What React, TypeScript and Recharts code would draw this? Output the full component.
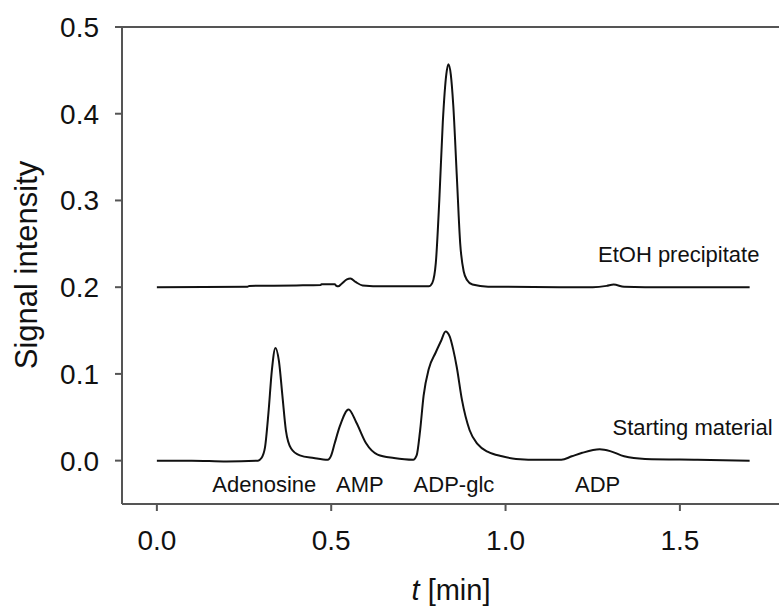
import React from "react";
import { LineChart, Line, XAxis, YAxis, ReferenceLine, ReferenceDot } from "recharts";

const startTimes = [0, 0.1, 0.2, 0.29, 0.3, 0.31, 0.32, 0.33, 0.34, 0.35, 0.36, 0.37, 0.385, 0.41, 0.45, 0.49, 0.5, 0.51, 0.525, 0.55, 0.572, 0.6, 0.633, 0.68, 0.735, 0.745, 0.755, 0.765, 0.78, 0.8, 0.815, 0.828, 0.84, 0.85, 0.86, 0.875, 0.897, 0.92, 0.95, 0.99, 1.03, 1.1, 1.16, 1.19, 1.22, 1.27, 1.3, 1.34, 1.4, 1.55, 1.7];
const startValues = [0, 0, -0.001, 0, 0.003, 0.015, 0.055, 0.105, 0.13, 0.115, 0.075, 0.035, 0.014, 0.006, 0.003, 0.001, 0.006, 0.02, 0.04, 0.059, 0.044, 0.02, 0.007, 0.003, 0.001, 0.006, 0.035, 0.075, 0.106, 0.125, 0.138, 0.149, 0.143, 0.128, 0.108, 0.07, 0.035, 0.019, 0.01, 0.005, 0.002, 0.001, 0.001, 0.005, 0.009, 0.013, 0.011, 0.005, 0.002, 0.001, 0];

const etohTimes = [0, 0.26, 0.265, 0.4, 0.47, 0.472, 0.51, 0.515, 0.52, 0.53, 0.545, 0.555, 0.57, 0.59, 0.65, 0.78, 0.79, 0.8, 0.81, 0.82, 0.83, 0.836, 0.843, 0.85, 0.86, 0.87, 0.88, 0.89, 0.905, 0.95, 1.25, 1.29, 1.31, 1.34, 1.4, 1.7];
const etohValues = [0.2, 0.2005, 0.2015, 0.202, 0.2025, 0.2035, 0.2035, 0.2015, 0.201, 0.204, 0.209, 0.21, 0.206, 0.202, 0.201, 0.201, 0.205, 0.228, 0.3, 0.39, 0.445, 0.457, 0.445, 0.41, 0.33, 0.25, 0.218, 0.208, 0.203, 0.2005, 0.2, 0.2015, 0.203, 0.2005, 0.2, 0.2];

const xTicks = [0, 0.5, 1.0, 1.5];
const yTicks = [0, 0.1, 0.2, 0.3, 0.4, 0.5];

const peakLabels = ["Adenosine", "AMP", "ADP-glc", "ADP"];
const peakLabelX = [0.308, 0.582, 0.852, 1.264];
const peakLabelY = [-0.036, -0.036, -0.036, -0.036];

const traceNames = ["EtOH precipitate", "Starting material"];
const traceLabelX = [1.728, 1.766];
const traceLabelY = [0.2286, 0.029];

const startData = startTimes.map((t, i) => ({ t, v: startValues[i] }));
const etohData = etohTimes.map((t, i) => ({ t, v: etohValues[i] }));

const AXIS = "#555";
const FONT = "'Liberation Sans', Arial, sans-serif";

const XTick = (props: any) => {
  const { x, y, payload } = props;
  return (
    <text x={x} y={y} dy={37} textAnchor="middle" fontSize={28} fontFamily={FONT} fill="#111">
      {payload.value.toFixed(1)}
    </text>
  );
};

const YTick = (props: any) => {
  const { x, y, payload } = props;
  return (
    <text x={x - 14} y={y} dy={10} textAnchor="end" fontSize={28} fontFamily={FONT} fill="#111">
      {payload.value.toFixed(1)}
    </text>
  );
};

const makeText = (txt: string, anchor: string) => (p: any) => (
  <text x={p.cx} y={p.cy} textAnchor={anchor} fontSize={22} fontFamily={FONT} fill="#111">
    {txt}
  </text>
);

export default function App() {
  return (
    <div style={{ position: "absolute", left: 0, top: 0, width: 779, height: 608, overflow: "hidden", background: "#fff" }}>
      <LineChart width={800} height={608} margin={{ top: 27, right: 15.5, bottom: 0, left: 0 }}>
        <XAxis
          type="number"
          dataKey="t"
          domain={[-0.1, 1.8]}
          ticks={xTicks}
          allowDataOverflow
          height={104}
          stroke={AXIS}
          strokeWidth={2}
          tickSize={7}
          tick={<XTick />}
          tickLine={{ stroke: AXIS, strokeWidth: 2 }}
        />
        <YAxis
          type="number"
          dataKey="v"
          domain={[-0.05, 0.5]}
          ticks={yTicks}
          allowDataOverflow
          width={122}
          stroke={AXIS}
          strokeWidth={2}
          tickSize={7}
          tick={<YTick />}
          tickLine={{ stroke: AXIS, strokeWidth: 2 }}
        />
        <ReferenceLine y={0.5} stroke={AXIS} strokeWidth={2} />
        <Line data={etohData} dataKey="v" type="monotone" stroke="#111" strokeWidth={2} dot={false} isAnimationActive={false} />
        <Line data={startData} dataKey="v" type="monotone" stroke="#111" strokeWidth={2} dot={false} isAnimationActive={false} />
        {peakLabels.map((name, i) => (
          <ReferenceDot key={name} x={peakLabelX[i]} y={peakLabelY[i]} r={0} ifOverflow="visible" shape={makeText(name, "middle")} />
        ))}
        {traceNames.map((name, i) => (
          <ReferenceDot key={name} x={traceLabelX[i]} y={traceLabelY[i]} r={0} ifOverflow="visible" shape={makeText(name, "end")} />
        ))}
      </LineChart>
      <svg width={779} height={608} style={{ position: "absolute", left: 0, top: 0, pointerEvents: "none" }}>
        <text x={26} y={265} transform="rotate(-90 26 265)" textAnchor="middle" dominantBaseline="central" fontSize={31} fontFamily={FONT} fill="#111">
          Signal intensity
        </text>
        <text x={451} y={600} textAnchor="middle" fontSize={29} fontFamily={FONT} fill="#111">
          <tspan fontStyle="italic">t</tspan> [min]
        </text>
      </svg>
    </div>
  );
}
